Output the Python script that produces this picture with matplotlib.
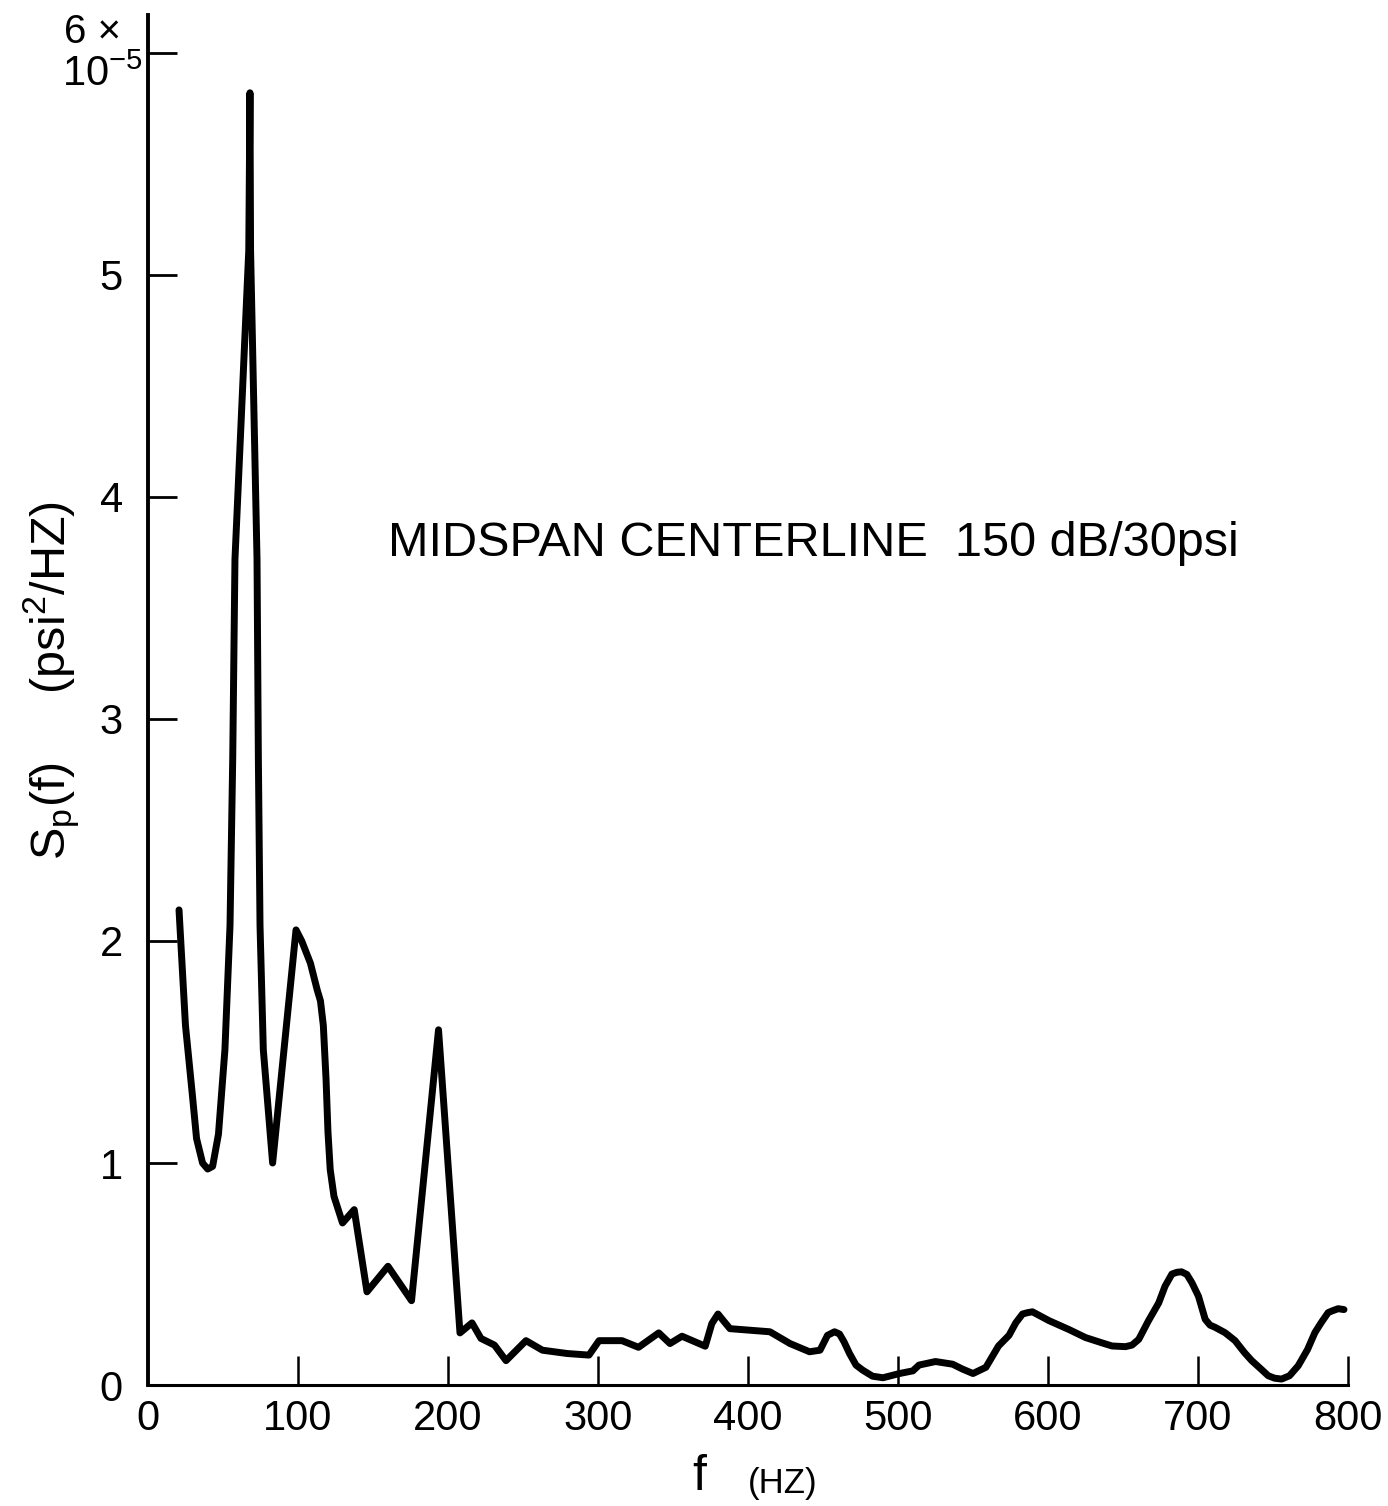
import matplotlib
matplotlib.use("Agg")
import matplotlib.pyplot as plt

# pressure spectral density (units of 1e-5 psi^2/Hz)
freq = [20.7, 25.0, 29.7, 32.4, 36.4, 39.8, 43.1, 47.0, 51.3, 54.7, 56.5,
        58.0, 67.2, 68.0, 68.4, 72.7, 73.6, 74.7, 76.9, 83.1, 98.7,
        102.5, 108.3, 112.8, 115.0, 116.9, 118.7, 120.0, 121.5, 124.0,
        129.7, 137.5, 146.0, 160.0, 175.7, 193.7, 208.0, 216.0, 222.0,
        231.0, 238.7, 252.0, 263.0, 279.6, 294.0, 300.7, 316.0, 327.0,
        340.5, 348.0, 356.0, 371.5, 375.9, 380.0, 383.6, 388.0, 414.6,
        428.0, 441.0, 448.0, 453.0, 457.7, 461.0, 464.0, 467.7, 472.0,
        476.5, 483.0, 490.0, 501.0, 509.9, 514.0, 525.0, 536.4, 543.0,
        550.0, 558.6, 567.0, 574.0, 578.5, 583.0, 586.3, 589.6, 600.7,
        614.0, 625.0, 636.0, 642.7, 651.6, 656.0, 660.5, 667.0, 673.8,
        678.0, 682.6, 686.0, 689.0, 692.6, 696.0, 700.3, 704.8, 708.0,
        711.4, 718.0, 724.7, 731.0, 735.8, 742.0, 746.8, 751.0, 755.7,
        761.0, 766.8, 773.0, 777.9, 782.0, 786.7, 789.0, 793.4, 797.3]
spsd = [2.14, 1.62, 1.30, 1.11, 1.00, 0.973, 0.985, 1.13, 1.51, 2.07, 2.82,
        3.72, 5.11, 5.82, 5.11, 3.72, 2.82, 2.07, 1.51, 1.00, 2.05,
        2.00, 1.90, 1.78, 1.73, 1.62, 1.38, 1.14, 0.97, 0.85,
        0.73, 0.79, 0.42, 0.535, 0.38, 1.60, 0.235, 0.28, 0.21,
        0.18, 0.11, 0.20, 0.157, 0.142, 0.135, 0.20, 0.20, 0.17,
        0.235, 0.187, 0.22, 0.175, 0.277, 0.32, 0.29, 0.254, 0.24,
        0.187, 0.15, 0.157, 0.224, 0.24, 0.23, 0.195, 0.142, 0.09,
        0.067, 0.04, 0.033, 0.052, 0.064, 0.09, 0.106, 0.094, 0.072,
        0.052, 0.08, 0.176, 0.224, 0.28, 0.32, 0.326, 0.33, 0.29,
        0.25, 0.214, 0.19, 0.176, 0.173, 0.18, 0.206, 0.29, 0.37,
        0.445, 0.50, 0.508, 0.51, 0.498, 0.46, 0.40, 0.296, 0.27,
        0.26, 0.236, 0.20, 0.146, 0.11, 0.072, 0.042, 0.031, 0.027,
        0.042, 0.087, 0.16, 0.236, 0.28, 0.326, 0.333, 0.344, 0.34]

xticks = [0, 100, 200, 300, 400, 500, 600, 700, 800]
xtick_labels = ["0", "100", "200", "300", "400", "500", "600", "700", "800"]
yticks = [0, 1, 2, 3, 4, 5, 6]
ytick_labels = ["0", "1", "2", "3", "4", "5", ""]

plt.rcParams["font.family"] = ["Liberation Sans", "DejaVu Sans"]
plt.rcParams["mathtext.fontset"] = "custom"
plt.rcParams["mathtext.rm"] = "Liberation Sans"
plt.rcParams["mathtext.it"] = "Liberation Sans"

fig = plt.figure(figsize=(13.88, 15.06), dpi=100)
ax = fig.add_axes([0.1066, 0.0803, 0.8646, 0.9097])

ax.plot(freq, spsd, color="black", lw=5, solid_joinstyle="round",
        solid_capstyle="round")

ax.set_xlim(0, 800)
ax.set_ylim(0, 6.17)
ax.spines["top"].set_visible(False)
ax.spines["right"].set_visible(False)
ax.spines["left"].set_linewidth(2.8)
ax.spines["bottom"].set_linewidth(2.2)

ax.set_xticks(xticks)
ax.set_xticklabels(xtick_labels)
ax.set_yticks(yticks)
ax.set_yticklabels(ytick_labels)
ax.tick_params(axis="x", direction="in", length=21, width=1.8, pad=10,
               labelsize=30)
ax.tick_params(axis="y", direction="in", length=21, width=2.0, pad=18,
               labelsize=30)
ax.xaxis.get_major_ticks()[0].tick1line.set_visible(False)
ax.yaxis.get_major_ticks()[0].tick1line.set_visible(False)

# 6 x 10^-5 scale note at the top of the y axis
fig.text(0.067, 0.979, "6 \u00d7", fontsize=29, ha="center", va="center")
fig.text(0.074, 0.950, r"$\mathregular{10^{-5}}$", fontsize=30,
         ha="center", va="center")

fig.text(0.037, 0.548, r"$\mathregular{S_p(f)\quad\ \ (psi^2/HZ)}$",
         fontsize=35, rotation=90, ha="center", va="center")

fig.text(0.504, 0.019, "f", fontsize=36, ha="center", va="center")
fig.text(0.564, 0.015, "(HZ)", fontsize=25, ha="center", va="center")

ax.text(160, 3.79, "MIDSPAN CENTERLINE  150 dB/30psi", fontsize=35,
        ha="left", va="center")

fig.savefig("out.png", dpi=100)
